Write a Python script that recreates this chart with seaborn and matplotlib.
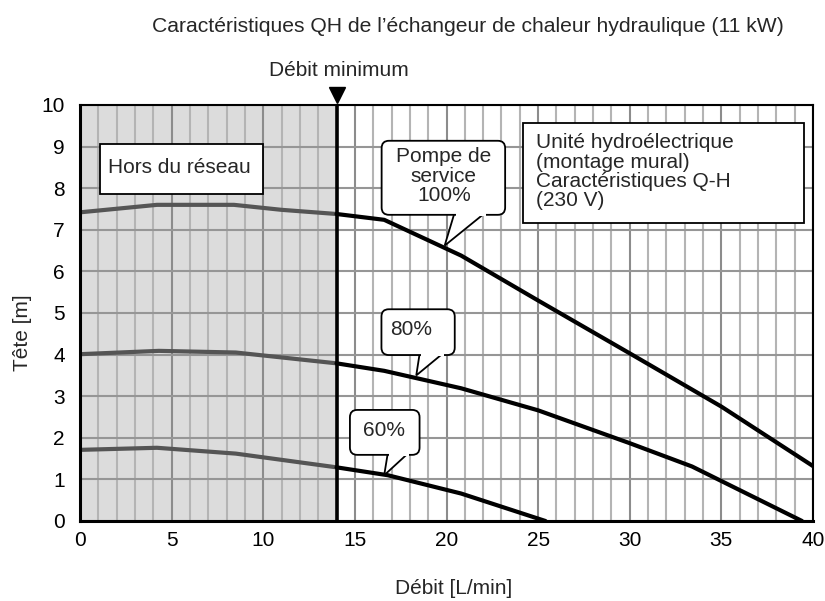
import matplotlib
matplotlib.use("Agg")
import matplotlib.pyplot as plt
import matplotlib.transforms as mtransforms
from matplotlib.patches import FancyBboxPatch, Rectangle, Polygon
import numpy as np
import pandas as pd
import seaborn as sns

# ---------------- data ----------------
flow_100 = [0, 4.2, 8.4, 11, 14, 16.6, 20.8, 25, 30, 35, 40]
head_100 = [7.42, 7.6, 7.6, 7.48, 7.38, 7.24, 6.38, 5.3, 4.03, 2.75, 1.32]
flow_80 = [0, 4.3, 8.5, 14, 16.6, 20.8, 25, 30, 33.4, 39.4]
head_80 = [4.01, 4.09, 4.05, 3.79, 3.61, 3.19, 2.66, 1.87, 1.31, 0]
flow_60 = [0, 4.2, 8.5, 14, 16.8, 20.8, 25.4]
head_60 = [1.71, 1.76, 1.62, 1.29, 1.1, 0.66, 0]
min_flow = 14

x_ticks = [0, 5, 10, 15, 20, 25, 30, 35, 40]
y_ticks = [0, 1, 2, 3, 4, 5, 6, 7, 8, 9, 10]

title = "Caractéristiques QH de l’échangeur de chaleur hydraulique (11 kW)"
x_label = "Débit [L/min]"
y_label = "Tête [m]"
min_label = "Débit minimum"
off_label = "Hors du réseau"
unit_label = "Unité hydroélectrique\n(montage mural)\nCaractéristiques Q-H\n(230 V)"
callouts = ["Pompe de\nservice\n100%", "80%", "60%"]

# ---------------- style ----------------
sns.set_style("white")
plt.rcParams['font.family'] = ['Liberation Sans', 'DejaVu Sans']
FS = 15

fig = plt.figure(figsize=(8.25, 6.01), dpi=100)
ax = fig.add_axes([80/825, 80/601, (813-80)/825, (521-105)/601])

ax.set_xlim(0, 40)
ax.set_ylim(0, 10)

# shaded region
ax.axvspan(0, min_flow, color="#dcdcdc", zorder=0, lw=0)

# grid
ax.set_xticks(x_ticks)
ax.set_xticks(range(0, 41), minor=True)
ax.set_yticks(y_ticks)
ax.grid(False)
for xv in range(0, 41):
    if xv % 5 == 0:
        ax.axvline(xv, color="#8c8c8c", lw=1.5, zorder=1)
    else:
        ax.axvline(xv, color="#b4b4b4", lw=1.5, zorder=1)
for yv in y_ticks:
    ax.axhline(yv, color="#969696", lw=1.5, zorder=1)

# curves
for fl, hd in [(flow_100, head_100), (flow_80, head_80), (flow_60, head_60)]:
    df = pd.DataFrame({"q": fl, "h": hd})
    left = df[df.q <= min_flow]
    right = df[df.q >= min_flow]
    sns.lineplot(data=left, x="q", y="h", ax=ax, color="#555555", lw=3,
                 sort=False, estimator=None, zorder=3)
    sns.lineplot(data=right, x="q", y="h", ax=ax, color="black", lw=3,
                 sort=False, estimator=None, zorder=3)

# minimum flow line
ax.axvline(min_flow, color="black", lw=2.6, zorder=4)
bt = mtransforms.blended_transform_factory(ax.transData, ax.transAxes)
ax.plot([min_flow], [1.023], marker="v", color="black", markersize=11,
        transform=bt, clip_on=False, zorder=5)
ax.text(min_flow + 0.1, (521 - 71) / 416, min_label, transform=bt,
        ha="center", va="center", fontsize=FS)

# spines
for s in ["left", "bottom"]:
    ax.spines[s].set_linewidth(2.2)
    ax.spines[s].set_color("black")
for s in ["top", "right"]:
    ax.spines[s].set_linewidth(1.5)
    ax.spines[s].set_color("black")
for s in ax.spines.values():
    s.set_zorder(6)

ax.tick_params(axis="both", which="both", length=0, labelsize=FS,
               labelcolor="black")
ax.tick_params(axis="y", pad=11)
ax.tick_params(axis="x", pad=7)
ax.set_xlabel("")
ax.set_ylabel("")
fig.text(454/825, 1 - 588/601, x_label, ha="center", va="center", fontsize=FS)
fig.text(22/825, 1 - 333/601, y_label, ha="center", va="center",
         rotation=90, fontsize=FS)

# plain boxes
ax.add_patch(Rectangle((1.1, 7.87), 8.9, 1.2, fc="white", ec="black", lw=1.3, zorder=7))
ax.text(1.55, 8.49, off_label, ha="left", va="center", fontsize=FS, zorder=8)

ax.add_patch(Rectangle((24.2, 7.16), 15.3, 2.4, fc="white", ec="black", lw=1.3, zorder=7))
ax.text(24.9, 9.32, unit_label, ha="left", va="top", fontsize=FS,
        linespacing=1.02, zorder=8)

# callouts: (box x0, y0, w, h, text x, text y, ha, base left, base right, tip x, tip y)
aspect = (733/40) / (416/10)
call_geo = [
    (16.46, 7.36, 6.74, 1.78, 19.85, 8.29, "center", 20.46, 22.2, 19.9, 6.62),
    (16.45, 3.99, 4.0, 1.1, 16.9, 4.6, "left", 18.55, 19.92, 18.35, 3.5),
    (14.73, 1.59, 3.8, 1.08, 15.45, 2.17, "left", 16.81, 18.01, 16.6, 1.1),
]
for label, (bx, by, bw, bh, tx, ty, ha, bl, br, px, py) in zip(callouts, call_geo):
    ax.add_patch(Polygon([(bl, by + 0.08), (br, by + 0.08), (px, py)],
                         closed=True, fc="white", ec="black", lw=1.3,
                         joinstyle="miter", zorder=7))
    ax.add_patch(FancyBboxPatch((bx, by), bw, bh,
                                boxstyle="round,pad=0,rounding_size=0.4",
                                mutation_aspect=aspect,
                                fc="white", ec="black", lw=1.3, zorder=8))
    # re-cover the box border over the pointer base
    ax.add_patch(Polygon([(bl + 0.06, by + 0.1), (br - 0.06, by + 0.1),
                          (br - 0.06, by - 0.02), (bl + 0.06, by - 0.02)],
                         closed=True, fc="white", ec="none", lw=0, zorder=8.5))
    ax.text(tx, ty, label, ha=ha, va="center", fontsize=FS,
            linespacing=1.02, zorder=9)

fig.text(467.5/825, 1 - 27/601, title, ha="center", va="center", fontsize=15.2)

fig.savefig("out.png", dpi=100)
